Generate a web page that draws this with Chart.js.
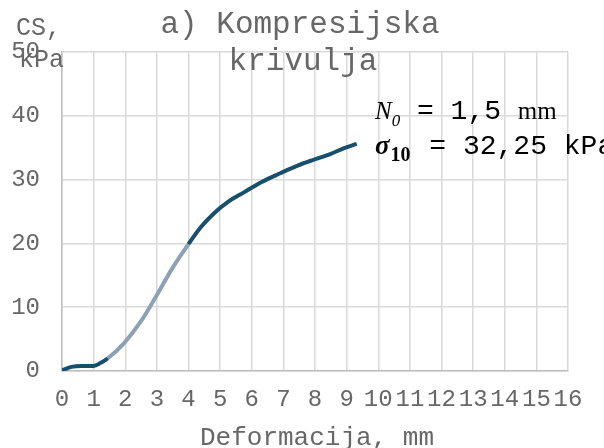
<!DOCTYPE html>
<html>
<head>
<meta charset="utf-8">
<script src="https://cdn.jsdelivr.net/npm/chart.js@4/dist/chart.umd.min.js"></script>
<style>
  html, body { margin: 0; padding: 0; background: #ffffff; }
  #wrap { width: 604px; height: 448px; }
</style>
</head>
<body>
<div id="wrap"><canvas id="cs"></canvas></div>
<script>
// values
var deformation = [0, 0.3, 0.6, 1.0, 1.2, 1.45, 1.95, 2.5, 3.0, 3.5, 4.0, 4.4, 4.8, 5.25, 5.75, 6.3, 6.9, 7.45, 7.95, 8.48, 8.9, 9.32];
var stress = [0.1, 0.65, 0.8, 0.8, 1.2, 2.0, 4.3, 7.8, 11.9, 16.2, 19.9, 22.6, 24.7, 26.5, 28.0, 29.6, 31.0, 32.2, 33.1, 34.0, 34.9, 35.6];
var xTicks = [0, 1, 2, 3, 4, 5, 6, 7, 8, 9, 10, 11, 12, 13, 14, 15, 16];
var yTicks = [0, 10, 20, 30, 40, 50];
var titleLines = ['a) Kompresijska', 'krivulja'];
var yTitleLines = ['CS,', 'kPa'];
var xTitle = 'Deformacija, mm';
var n0Value = '1,5';
var sigma10Value = '32,25';

var darkBlue = '#174f6c';
var lightBlue = '#8ca1b3';
var grey = '#676767';
var mono = '"Liberation Mono", "Courier New", monospace';
var serif = '"Liberation Serif", "Times New Roman", serif';

var points = deformation.map(function (d, i) {
  return { x: d, y: stress[i] };
});

var textPlugin = {
  id: 'texts',
  afterDraw: function (chart) {
    var ctx = chart.ctx;
    ctx.save();
    ctx.fillStyle = grey;
    ctx.textBaseline = 'alphabetic';

    // title
    ctx.textAlign = 'center';
    ctx.font = '31px ' + mono;
    ctx.fillText(titleLines[0], 300, 33);
    ctx.fillText(titleLines[1], 303, 70);

    // y axis title
    ctx.font = '25px ' + mono;
    ctx.textAlign = 'left';
    ctx.fillText(yTitleLines[0], 16, 35);
    ctx.fillText(yTitleLines[1], 19, 67);

    // x axis title
    ctx.textAlign = 'center';
    ctx.font = '26px ' + mono;
    ctx.fillText(xTitle, 317, 445);

    // annotations
    ctx.fillStyle = '#000000';
    ctx.textAlign = 'left';
    var x = 375;
    ctx.font = 'italic 25px ' + serif;
    ctx.fillText('N', x, 119);
    x += ctx.measureText('N').width;
    ctx.font = 'italic 17px ' + serif;
    ctx.fillText('0', x, 126);
    x += ctx.measureText('0').width;
    ctx.font = '28px ' + mono;
    ctx.fillText(' = ' + n0Value + ' ', x, 119);
    x += ctx.measureText(' = ' + n0Value + ' ').width;
    ctx.font = '25px ' + serif;
    ctx.fillText('mm', x, 119);

    x = 375;
    ctx.font = 'bold italic 27px ' + serif;
    ctx.fillText('\u03c3', x, 154);
    x += ctx.measureText('\u03c3').width + 1;
    ctx.font = 'bold 20px ' + serif;
    ctx.fillText('10', x, 161);
    x += ctx.measureText('10').width + 2;
    ctx.font = '28px ' + mono;
    ctx.fillText(' = ' + sigma10Value + ' kPa', x, 154);
    ctx.restore();
  }
};

new Chart(document.getElementById('cs').getContext('2d'), {
  type: 'line',
  data: {
    datasets: [
      {
        data: points,
        borderColor: darkBlue,
        borderWidth: 4,
        pointRadius: 0,
        tension: 0.4,
        cubicInterpolationMode: 'monotone',
        segment: {
          borderColor: function (c) {
            if (c.p0.parsed.x >= 1.45 && c.p1.parsed.x <= 4.0) return lightBlue;
            return darkBlue;
          },
        },
      },
    ],
  },
  options: {
    responsive: true,
    maintainAspectRatio: false,
    animation: false,
    layout: { padding: { left: 0, top: 52, right: 36, bottom: 0 } },
    plugins: { legend: { display: false }, tooltip: { enabled: false } },
    scales: {
      x: {
        type: 'linear',
        min: 0,
        max: 16,
        afterFit: function (s) { s.height = 77; },
        afterBuildTicks: function (s) {
          s.ticks = xTicks.map(function (v) { return { value: v }; });
        },
        grid: { color: '#d9d9d9', lineWidth: 1.5, drawTicks: false },
        border: { color: '#bfbfbf', width: 1.5 },
        ticks: {
          autoSkip: false,
          maxRotation: 0,
          minRotation: 0,
          padding: 14,
          color: grey,
          font: { family: mono, size: 24 },
        },
      },
      y: {
        min: 0,
        max: 50,
        afterFit: function (s) { s.width = 62; },
        afterBuildTicks: function (s) {
          s.ticks = yTicks.map(function (v) { return { value: v }; });
        },
        grid: { color: '#d9d9d9', lineWidth: 1.5, drawTicks: false },
        border: { color: '#bfbfbf', width: 1.5 },
        ticks: {
          padding: 22,
          color: grey,
          font: { family: mono, size: 24 },
        },
      },
    },
  },
  plugins: [textPlugin],
});
</script>
</body>
</html>
